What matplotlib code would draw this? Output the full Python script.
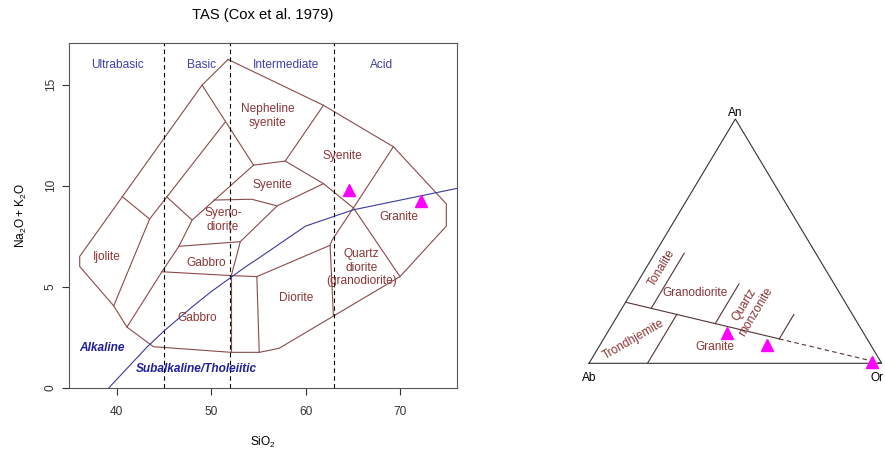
import numpy as np
import matplotlib
matplotlib.use("Agg")
import matplotlib.pyplot as plt

plt.rcParams['font.family'] = ['Liberation Sans', 'DejaVu Sans']

# ---- TAS diagram (Cox et al. 1979) ----
outer_x = [51.8, 61.9, 69.3, 74.9, 74.9, 70.0, 57.2, 55.1, 52.15, 43.9, 41.1, 39.7, 36.1, 36.1, 49.05, 51.8]
outer_y = [16.25, 13.98, 11.93, 9.1, 8.0, 5.5, 1.95, 1.75, 1.75, 2.03, 3.0, 4.05, 6.0, 6.5, 14.98, 16.25]

neph_left_x = [49.05, 54.5]
neph_left_y = [14.98, 11.02]
neph_base_x = [54.5, 57.85, 61.9]
neph_base_y = [11.02, 11.22, 13.98]
syen_base_x = [57.85, 61.9, 65.07, 70.0]
syen_base_y = [11.22, 10.1, 8.9, 5.5]
granite_left_x = [69.3, 65.07, 62.8, 62.6, 62.95]
granite_left_y = [11.93, 8.9, 7.3, 7.05, 3.57]
diorite_top_x = [54.85, 62.6]
diorite_top_y = [5.5, 7.05]
diorite_left_x = [54.85, 55.1]
diorite_left_y = [5.5, 1.75]
gabbro_base_x = [44.8, 52.15, 54.85]
gabbro_base_y = [5.74, 5.55, 5.5]
gabbro_split_x = [52.15, 52.15]
gabbro_split_y = [5.55, 1.75]
gabbro_box_x = [46.6, 53.1, 52.15]
gabbro_box_y = [7.0, 7.23, 5.55]
syenodior_top_x = [50.3, 54.3, 57.0, 61.9]
syenodior_top_y = [9.29, 9.33, 9.0, 10.1]
syenodior_right_x = [57.0, 53.1]
syenodior_right_y = [9.0, 7.23]
chain_a_x = [41.1, 44.8, 46.6, 48.0, 54.5]
chain_a_y = [3.0, 5.74, 7.0, 8.3, 11.02]
chain_b_x = [51.5, 43.5, 39.7]
chain_b_y = [13.15, 8.35, 4.05]
tie1_x = [40.6, 43.5]
tie1_y = [9.46, 8.35]
tie2_x = [45.3, 48.0]
tie2_y = [9.45, 8.3]

boundaries = [
    (outer_x, outer_y), (neph_left_x, neph_left_y), (neph_base_x, neph_base_y),
    (syen_base_x, syen_base_y), (granite_left_x, granite_left_y),
    (diorite_top_x, diorite_top_y), (diorite_left_x, diorite_left_y),
    (gabbro_base_x, gabbro_base_y), (gabbro_split_x, gabbro_split_y),
    (gabbro_box_x, gabbro_box_y), (syenodior_top_x, syenodior_top_y),
    (syenodior_right_x, syenodior_right_y), (chain_a_x, chain_a_y),
    (chain_b_x, chain_b_y), (tie1_x, tie1_y), (tie2_x, tie2_y),
]

# Irvine & Baragar alkaline / subalkaline divide
ib_x = [39.2, 40, 43.2, 45, 48, 50, 53.7, 55, 60, 65, 77.4]
ib_y = [0, 0.4, 2, 2.8, 4, 4.75, 6, 6.4, 8, 8.8, 10]

silica_divisions = [45, 52, 63]

sample_sio2 = [64.55, 72.2]
sample_alk = [9.79, 9.24]

# ---- An-Ab-Or ternary ----
tern_an = [0.123, 0.075, 0.005]
tern_or = [0.409, 0.570, 0.963]

main_an = [0.25, 0.10]
main_or = [0.0, 0.60]
dash_an = [0.10, 0.0]
dash_or = [0.60, 1.0]
ton_an = [0.225, 0.45]
ton_or = [0.10, 0.10]
qm_an = [0.1625, 0.325]
qm_or = [0.35, 0.35]
right_an = [0.10, 0.20]
right_or = [0.60, 0.60]
trond_an = [0.0, 0.20]
trond_or = [0.20, 0.20]

line_col = '#8B4A4A'
label_col = '#8B3535'
div_col = '#4040A8'
alk_col = '#1F1FA0'
fs = 8.6


def tern_xy(an, orr):
    an = np.asarray(an, dtype=float)
    orr = np.asarray(orr, dtype=float)
    return orr + an / 2.0, an * np.sqrt(3) / 2.0


fig = plt.figure(figsize=(8.85, 4.51), dpi=100)
ax = fig.add_axes([69.3 / 885, 1 - 387.7 / 451, 387.4 / 885, 344.4 / 451])

for bx, by in boundaries:
    ax.plot(bx, by, color=line_col, lw=0.8)
for sx in silica_divisions:
    ax.axvline(sx, color='black', lw=0.8, linestyle=(0, (4, 3)))
ax.plot(ib_x, ib_y, color='#3B3B9E', lw=0.8)
ax.plot(sample_sio2, sample_alk, linestyle='none', marker='^', color='#FF00FF', markersize=9)

ax.set_xlim(35, 76)
ax.set_ylim(0, 17.05)
ax.set_xticks([40, 50, 60, 70])
ax.set_yticks([0, 5, 10, 15])
ax.tick_params(direction='out', length=5, width=0.8, colors='#333333', labelsize=fs)
ax.tick_params(axis='x', pad=8)
ax.tick_params(axis='y', pad=4)
for lab in ax.get_yticklabels():
    lab.set_rotation(90)
    lab.set_va('center')
for sp in ax.spines.values():
    sp.set_color('#555555')
    sp.set_linewidth(0.8)

ax.set_xlabel(r'$\mathregular{SiO_2}$', fontsize=fs)
ax.xaxis.set_label_coords(0.5, -0.137)
ax.set_ylabel(r'$\mathregular{Na_2O+K_2O}$', fontsize=fs)
ax.yaxis.set_label_coords(-0.105, 0.5)
ax.text(0.5, 1 + 28.3 / 344.4, 'TAS (Cox et al. 1979)', transform=ax.transAxes,
        ha='center', va='center', fontsize=10.6)

for t, x in [('Ultrabasic', 40.07), ('Basic', 49.05), ('Intermediate', 57.9), ('Acid', 68.0)]:
    ax.text(x, 15.97, t, color=div_col, fontsize=fs, ha='center', va='center')

fields = [
    ('Nepheline\nsyenite', 56.0, 13.45), ('Syenite', 63.9, 11.49), ('Syenite', 56.5, 10.03),
    ('Syeno-\ndiorite', 51.26, 8.3), ('Gabbro', 49.46, 6.16), ('Gabbro', 48.5, 3.43),
    ('Ijolite', 38.94, 6.49), ('Diorite', 58.97, 4.46),
    ('Quartz\ndiorite\n(granodiorite)', 65.94, 5.94), ('Granite', 69.9, 8.47),
]
for t, x, y in fields:
    ax.text(x, y, t, color=label_col, fontsize=fs, ha='center', va='center', linespacing=1.15)

ax.text(38.5, 1.95, 'Alkaline', color=alk_col, fontsize=fs, ha='center', va='center',
        fontweight='bold', fontstyle='italic')
ax.text(48.5, 0.93, 'Subalkaline/Tholeiitic', color=alk_col, fontsize=fs, ha='center',
        va='center', fontweight='bold', fontstyle='italic')

# ternary panel
ax2 = fig.add_axes([589 / 885, (451 - 363.3) / 451, 292.7 / 885, 244.3 / 451])
ax2.set_xlim(0, 1)
ax2.set_ylim(0, np.sqrt(3) / 2)
ax2.axis('off')

fx, fy = tern_xy([0, 1, 0, 0], [0, 0, 1, 0])
ax2.plot(fx, fy, color='#333333', lw=0.8, clip_on=False)
for an, orr in [(main_an, main_or), (ton_an, ton_or), (qm_an, qm_or), (right_an, right_or), (trond_an, trond_or)]:
    lx, ly = tern_xy(an, orr)
    ax2.plot(lx, ly, color='#553333', lw=0.8, clip_on=False)
dx, dy = tern_xy(dash_an, dash_or)
ax2.plot(dx, dy, color='#553333', lw=0.8, linestyle=(0, (4, 3)), clip_on=False)

px, py = tern_xy(tern_an, tern_or)
ax2.plot(px, py, linestyle='none', marker='^', color='#FF00FF', markersize=9, clip_on=False)

ax2.text(0.5, np.sqrt(3) / 2, 'An', ha='center', va='bottom', fontsize=fs)
ax2.text(0.0, -0.053, 'Ab', ha='center', va='center', fontsize=fs)
ax2.text(0.985, -0.053, 'Or', ha='center', va='center', fontsize=fs)

ax2.text(0.2484, 0.3368, 'Tonalite', color=label_col, fontsize=fs, ha='center', va='center', rotation=59)
ax2.text(0.3621, 0.2503, 'Granodiorite', color=label_col, fontsize=fs, ha='center', va='center')
ax2.text(0.550, 0.195, 'Quartz\nmonzonite', color=label_col, fontsize=fs, ha='center', va='center', rotation=59)
ax2.text(0.1513, 0.0826, 'Trondhjemite', color=label_col, fontsize=fs, ha='center', va='center', rotation=30)
ax2.text(0.4305, 0.0567, 'Granite', color=label_col, fontsize=fs, ha='center', va='center')

fig.savefig('out.png', dpi=100)
